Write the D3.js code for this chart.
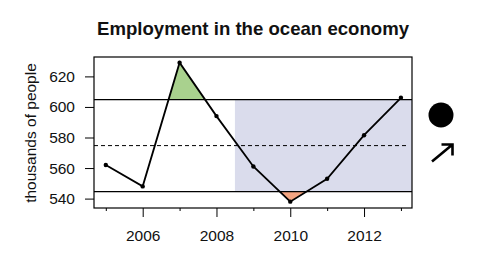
<!DOCTYPE html>
<html>
<head>
<meta charset="utf-8">
<script src="https://cdn.jsdelivr.net/npm/d3@7"></script>
<style>
  body { margin: 0; background: #fff; }
  text { font-family: Arial, "Liberation Sans", sans-serif; fill: #111; }
</style>
</head>
<body>
<svg id="chart" width="492" height="255"></svg>
<script>
// data
const years = [2005, 2006, 2007, 2008, 2009, 2010, 2011, 2012, 2013];
const employment = [562, 548, 629, 594, 561, 538, 553, 581.5, 606];
const meanLine = 574.7;
const upperLine = 604.8;
const lowerLine = 544.6;
const shadeStart = 2008.5;
const yTicks = [540, 560, 580, 600, 620];
const xMajor = [2006, 2008, 2010, 2012];
const xMinor = [2005, 2007, 2009, 2011, 2013];

const svg = d3.select("#chart");
const box = { left: 94, right: 412, top: 57, bottom: 208 };

const x = d3.scaleLinear().domain([2004.68, 2013.3]).range([box.left, box.right]);
const y = d3.scaleLinear().domain([540, 620]).range([198.6, 76.4]);

const pts = years.map((yr, i) => [yr, employment[i]]);
const defs = svg.append("defs");

// title
svg.append("text")
    .attr("x", 253).attr("y", 35)
    .attr("text-anchor", "middle")
    .style("font-size", "18.6px").style("font-weight", "bold")
    .text("Employment in the ocean economy");

// clip regions: whole box, above upper line, below lower line
function clip(id, y0, y1) {
    defs.append("clipPath").attr("id", id)
        .append("rect").attr("x", box.left).attr("y", y0)
        .attr("width", box.right - box.left).attr("height", y1 - y0);
}
clip("boxclip", box.top, box.bottom);
clip("aboveclip", box.top, y(upperLine));
clip("belowclip", y(lowerLine), box.bottom);

const plot = svg.append("g").attr("clip-path", "url(#boxclip)");

// shaded band for the recent years
plot.append("rect")
    .attr("x", x(shadeStart)).attr("y", y(upperLine))
    .attr("width", box.right - x(shadeStart))
    .attr("height", y(lowerLine) - y(upperLine))
    .style("fill", "#dadcec");

// green area above upper line
plot.append("path")
    .datum(pts)
    .attr("clip-path", "url(#aboveclip)")
    .attr("d", d3.area().x(d => x(d[0])).y0(y(upperLine)).y1(d => y(d[1])))
    .style("fill", "#a9d18e");

// red area below lower line
plot.append("path")
    .datum(pts)
    .attr("clip-path", "url(#belowclip)")
    .attr("d", d3.area().x(d => x(d[0])).y0(y(lowerLine)).y1(d => y(d[1])))
    .style("fill", "#f4a582");

// reference lines
[upperLine, lowerLine].forEach(v => {
    plot.append("line")
        .attr("x1", box.left).attr("x2", box.right)
        .attr("y1", y(v)).attr("y2", y(v))
        .style("stroke", "#000").style("stroke-width", 1.2);
});
plot.append("line")
    .attr("x1", box.left).attr("x2", box.right - 6)
    .attr("y1", y(meanLine)).attr("y2", y(meanLine))
    .style("stroke", "#000").style("stroke-width", 1)
    .style("stroke-dasharray", "4,3");

// the series
plot.append("path")
    .datum(pts)
    .attr("d", d3.line().x(d => x(d[0])).y(d => y(d[1])))
    .style("fill", "none").style("stroke", "#000").style("stroke-width", 1.8);

plot.selectAll("circle.pt")
    .data(pts)
    .enter()
    .append("circle")
    .classed("pt", true)
    .attr("cx", d => x(d[0])).attr("cy", d => y(d[1]))
    .attr("r", 2.2)
    .style("fill", "#000");

// box
svg.append("rect")
    .attr("x", box.left).attr("y", box.top)
    .attr("width", box.right - box.left).attr("height", box.bottom - box.top)
    .style("fill", "none").style("stroke", "#000").style("stroke-width", 1.2);

// y axis
const yAxis = svg.append("g")
    .attr("transform", "translate(" + box.left + ",0)")
    .call(d3.axisLeft(y).tickValues(yTicks).tickSize(9).tickPadding(10));
yAxis.select(".domain").remove();
yAxis.selectAll("text").style("font-size", "15.5px").style("font-family", "Arial, Liberation Sans, sans-serif");

// x axis, major and minor ticks
const xAxis = svg.append("g")
    .attr("transform", "translate(0," + box.bottom + ")")
    .call(d3.axisBottom(x).tickValues(xMajor).tickFormat(d3.format("d")).tickSize(9).tickPadding(13));
xAxis.select(".domain").remove();
xAxis.selectAll("text").style("font-size", "15.5px").style("font-family", "Arial, Liberation Sans, sans-serif");

const xMinorAxis = svg.append("g")
    .attr("transform", "translate(0," + box.bottom + ")")
    .call(d3.axisBottom(x).tickValues(xMinor).tickFormat("").tickSize(3));
xMinorAxis.select(".domain").remove();

// y axis title
svg.append("text")
    .attr("transform", "translate(36,133) rotate(-90)")
    .attr("text-anchor", "middle")
    .style("font-size", "15.5px")
    .text("thousands of people");

// status marker and trend arrow
svg.append("circle")
    .attr("cx", 441).attr("cy", 115).attr("r", 12.5)
    .style("fill", "#000");

const arrow = d3.path();
arrow.moveTo(432, 161.5);
arrow.lineTo(452.5, 144.5);
arrow.moveTo(441.5, 144.5);
arrow.lineTo(452.5, 144.5);
arrow.lineTo(452.5, 155.5);
svg.append("path")
    .attr("d", arrow.toString())
    .style("fill", "none").style("stroke", "#000").style("stroke-width", 2.6)
    .style("stroke-linecap", "butt");
</script>
</body>
</html>
